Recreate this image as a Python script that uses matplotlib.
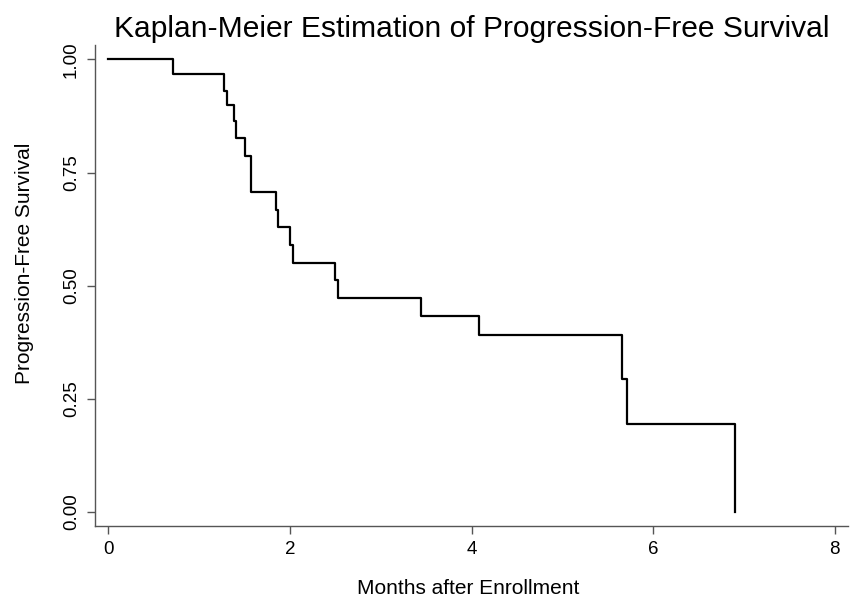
import matplotlib
matplotlib.use('Agg')
import matplotlib.pyplot as plt
from matplotlib import font_manager

# Kaplan-Meier step curve
months = [0.0, 0.716, 1.277, 1.304, 1.384, 1.406, 1.506, 1.575, 1.847, 1.869,
          2.004, 2.037, 2.493, 2.526, 3.447, 4.077, 5.661, 5.716, 6.902]
survival = [1.0, 0.968, 0.931, 0.899, 0.865, 0.826, 0.786, 0.707, 0.668, 0.629,
            0.590, 0.550, 0.513, 0.472, 0.432, 0.390, 0.293, 0.194, 0.0]
xTicks = [0, 2, 4, 6, 8]
yTicks = [0.0, 0.25, 0.5, 0.75, 1.0]
yTickLabels = ['0.00', '0.25', '0.50', '0.75', '1.00']

# pick a narrow sans if available
names = {f.name for f in font_manager.fontManager.ttflist}
family = 'Liberation Sans Narrow' if 'Liberation Sans Narrow' in names else 'Liberation Sans'
plt.rcParams['font.family'] = [family, 'DejaVu Sans']

fig = plt.figure(figsize=(8.5, 6.02), dpi=100)
ax = fig.add_axes([0.1118, 0.1268, 0.886, 0.7984])

ax.step(months, survival, where='post', color='black', linewidth=1.6)

ax.set_xlim(-0.146, 8.146)
ax.set_ylim(-0.031, 1.032)
ax.set_xticks(xTicks)
ax.set_yticks(yTicks)
ax.set_yticklabels(yTickLabels, rotation=90, va='center')

# stata-like axes
for side in ('top', 'right'):
    ax.spines[side].set_visible(False)
for side in ('left', 'bottom'):
    ax.spines[side].set_color('#555555')
    ax.spines[side].set_linewidth(1.0)
ax.tick_params(direction='out', length=6, width=1, color='#555555',
               labelsize=13.5, pad=5)

ax.set_xlabel('Months after Enrollment', fontsize=15, va='center')
ax.xaxis.set_label_coords(0.495, -0.13)
ax.set_ylabel('Progression-Free Survival', fontsize=15, va='center')
ax.yaxis.set_label_coords(-0.093, 0.545)
ax.set_title('Kaplan-Meier Estimation of Progression-Free Survival', fontsize=21.6, pad=6)

fig.savefig('out.png', dpi=100)
